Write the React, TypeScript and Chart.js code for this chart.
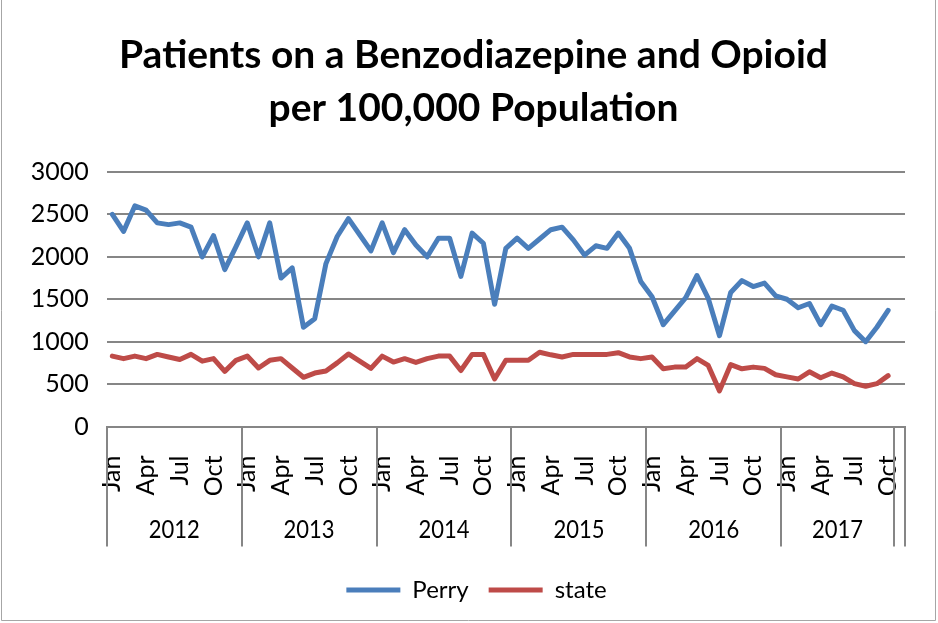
import React, { useEffect, useRef } from "react";
import { Chart, registerables } from "chart.js";

Chart.register(...registerables);

const titleLines = ["Patients on a Benzodiazepine and Opioid", "per 100,000 Population"];
const years = ["2012", "2013", "2014", "2015", "2016", "2017"];
const monthNames = ["Jan", "Feb", "Mar", "Apr", "May", "Jun", "Jul", "Aug", "Sep", "Oct", "Nov", "Dec"];
const shownMonths = ["Jan", "Apr", "Jul", "Oct"];
const monthsPerYear = [12, 12, 12, 12, 12, 10];
const yTickMax = 3000;
const yTickStep = 500;

const perry = [
  2500, 2300, 2600, 2550, 2400, 2380, 2400, 2350, 2000, 2250, 1850, 2120,
  2400, 2000, 2400, 1750, 1870, 1170, 1270, 1920, 2240, 2450, 2260, 2070,
  2400, 2050, 2320, 2140, 2000, 2220, 2220, 1770, 2280, 2160, 1440, 2100,
  2220, 2100, 2210, 2320, 2350, 2200, 2020, 2130, 2100, 2280, 2100, 1710,
  1530, 1200, 1360, 1520, 1780, 1510, 1070, 1580, 1720, 1650, 1690, 1540,
  1500, 1400, 1450, 1200, 1420, 1370, 1130, 1000, 1170, 1370,
];

const state = [
  830, 800, 830, 800, 850, 820, 790, 850, 770, 800, 650, 780,
  830, 690, 780, 800, 690, 580, 630, 655, 750, 855, 770, 685,
  830, 760, 800, 755, 800, 830, 830, 660, 850, 850, 560, 780,
  780, 780, 875, 845, 820, 850, 850, 850, 850, 870, 820, 800,
  820, 680, 700, 700, 800, 720, 420, 730, 680, 700, 685, 610,
  585, 560, 645, 575, 630, 585, 505, 475, 505, 600,
];

const categories: string[] = [];
years.forEach((_, yi) => {
  for (let m = 0; m < monthsPerYear[yi]; m++) categories.push(monthNames[m]);
});
categories.push("");

const FONT = "Lato, 'Open Sans', sans-serif";
const GRID = "#868686";

const yearAxisPlugin = {
  id: "yearAxis",
  afterLayout(chart: any) {
    if (chart.legend) {
      chart.legend.left += 24;
      chart.legend.right += 24;
    }
    if (chart.titleBlock) {
      chart.titleBlock.left += 21;
      chart.titleBlock.right += 21;
    }
  },
  afterDraw(chart: any) {
    const { ctx, chartArea } = chart;
    const xs = chart.scales.x;
    const bottom = chartArea.bottom;
    const edgeX = (e: number) => xs.getPixelForValue(e - 0.5);
    const edges: number[] = [0];
    let acc = 0;
    monthsPerYear.forEach((n) => {
      acc += n;
      edges.push(acc);
    });
    edges.push(categories.length);
    ctx.save();
    ctx.strokeStyle = GRID;
    ctx.lineWidth = 2;
    edges.forEach((e) => {
      const x = Math.round(edgeX(e));
      ctx.beginPath();
      ctx.moveTo(x, bottom);
      ctx.lineTo(x, bottom + 120);
      ctx.stroke();
    });
    ctx.fillStyle = "#000";
    ctx.font = `22px ${FONT}`;
    ctx.textAlign = "center";
    ctx.textBaseline = "middle";
    years.forEach((y, i) => {
      const cx = (edgeX(edges[i]) + edgeX(edges[i + 1])) / 2;
      ctx.save();
      ctx.translate(cx, bottom + 104);
      ctx.scale(1, 1.12);
      ctx.fillText(y, 0, 0);
      ctx.restore();
    });
    // outer chart frame
    ctx.strokeStyle = "#a6a6a6";
    ctx.lineWidth = 1;
    ctx.beginPath();
    ctx.moveTo(1.5, 0);
    ctx.lineTo(1.5, 620.5);
    ctx.lineTo(935.5, 620.5);
    ctx.lineTo(935.5, 0);
    ctx.stroke();
    ctx.restore();
  },
};

export default function App() {
  const ref = useRef<HTMLCanvasElement | null>(null);
  useEffect(() => {
    document.body.style.margin = "0";
    const canvas = ref.current;
    if (!canvas) return;
    const chart = new Chart(canvas, {
      type: "line",
      data: {
        labels: categories,
        datasets: [
          {
            label: "Perry",
            data: perry,
            borderColor: "#4A7EBB",
            backgroundColor: "#4A7EBB",
            borderWidth: 5,
            pointRadius: 0,
            tension: 0,
            borderJoinStyle: "round",
            borderCapStyle: "round",
          },
          {
            label: "state",
            data: state,
            borderColor: "#BE4B48",
            backgroundColor: "#BE4B48",
            borderWidth: 5,
            pointRadius: 0,
            tension: 0,
            borderJoinStyle: "round",
            borderCapStyle: "round",
          },
        ],
      },
      options: {
        responsive: false,
        animation: false,
        devicePixelRatio: 1,
        layout: { padding: { left: 0, right: 33, top: 0, bottom: 11 } },
        plugins: {
          title: {
            display: true,
            text: titleLines,
            color: "#000",
            font: { family: FONT, size: 39, weight: "bold", lineHeight: 1.359 },
            padding: { top: 28.5, bottom: 37.5 },
          },
          legend: {
            position: "bottom",
            labels: {
              usePointStyle: true,
              pointStyle: "line",
              pointStyleWidth: 54,
              color: "#000",
              padding: 20,
              font: { family: FONT, size: 24 },
            },
          },
          tooltip: { enabled: false },
        },
        scales: {
          x: {
            type: "category",
            offset: true,
            grid: { display: false },
            border: { display: true, color: GRID, width: 2 },
            ticks: {
              autoSkip: false,
              maxRotation: 90,
              minRotation: 90,
              padding: 21,
              color: "#000",
              font: { family: FONT, size: 25 },
              callback: (_v: any, i: number) =>
                shownMonths.includes(categories[i]) ? categories[i] : "",
            },
            afterFit: (s: any) => {
              s.height = 131.5;
              s.paddingLeft = 0;
              s.paddingRight = 0;
            },
          },
          y: {
            min: 0,
            max: yTickMax,
            ticks: {
              stepSize: yTickStep,
              padding: 18,
              color: "#000",
              font: { family: FONT, size: 25 },
              callback: (v: any) => String(v),
            },
            grid: { color: GRID, lineWidth: 2, drawTicks: false },
            border: { display: false },
            afterFit: (s: any) => {
              s.width = 106.7;
            },
          },
        },
      },
      plugins: [yearAxisPlugin],
    } as any);
    return () => chart.destroy();
  }, []);
  return (
    <div style={{ width: 938, height: 623, background: "#fff" }}>
      <canvas ref={ref} width={938} height={623} style={{ display: "block" }} />
    </div>
  );
}
